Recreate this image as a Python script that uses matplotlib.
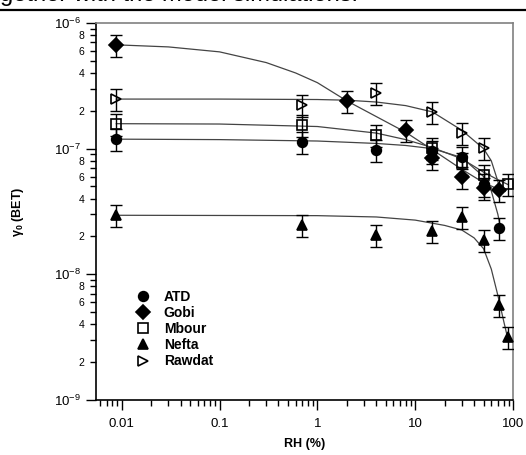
import numpy as np
import matplotlib
matplotlib.use("Agg")
import matplotlib.pyplot as plt
from matplotlib.ticker import FixedLocator, FixedFormatter, FuncFormatter, NullFormatter

plt.rcParams['font.family'] = ['Liberation Sans', 'DejaVu Sans']
plt.rcParams['mathtext.default'] = 'regular'

# measured points (RH in %, gamma0)
atd_rh = [0.0088, 0.7, 4, 15, 30, 50, 72]
atd_g = [1.19e-7, 1.13e-7, 9.8e-8, 9.5e-8, 8.6e-8, 5.2e-8, 2.35e-8]
gobi_rh = [0.0088, 2, 8, 15, 30, 50, 72]
gobi_g = [6.7e-7, 2.4e-7, 1.41e-7, 8.5e-8, 5.95e-8, 4.9e-8, 4.7e-8]
mbour_rh = [0.0088, 0.7, 4, 15, 30, 50, 88]
mbour_g = [1.58e-7, 1.55e-7, 1.29e-7, 1.01e-7, 7.7e-8, 6.2e-8, 5.25e-8]
nefta_rh = [0.0088, 0.7, 4, 15, 30, 50, 72, 88]
nefta_g = [2.95e-8, 2.47e-8, 2.06e-8, 2.2e-8, 2.86e-8, 1.88e-8, 5.7e-9, 3.2e-9]
rawdat_rh = [0.0088, 0.7, 4, 15, 30, 50]
rawdat_g = [2.48e-7, 2.23e-7, 2.77e-7, 1.96e-7, 1.33e-7, 1.01e-7]
rel_err = 0.2

# model curves
gobi_fit_rh = [0.0088, 0.03, 0.1, 0.3, 0.6, 1, 2, 4, 8, 15, 30, 50, 72, 83]
gobi_fit_g = [6.7e-7, 6.45e-7, 5.89e-7, 4.84e-7, 4.0e-7, 3.35e-7, 2.4e-7, 1.8e-7, 1.35e-7,
              9.8e-8, 6.84e-8, 5.37e-8, 4.73e-8, 4.57e-8]
mbour_fit_rh = [0.0088, 0.1, 1, 4, 8, 15, 30, 50, 72, 88]
mbour_fit_g = [1.58e-7, 1.57e-7, 1.5e-7, 1.33e-7, 1.18e-7, 1.02e-7, 8.3e-8, 6.5e-8, 5.6e-8, 5.2e-8]
atd_fit_rh = [0.0088, 0.1, 1, 4, 8, 15, 30, 50, 60, 70, 75]
atd_fit_g = [1.19e-7, 1.18e-7, 1.15e-7, 1.1e-7, 1.06e-7, 1.0e-7, 8.5e-8, 6.0e-8, 4.6e-8, 3.0e-8, 2.3e-8]
rawdat_fit_rh = [0.0088, 0.1, 1, 2, 4, 8, 15, 30, 50, 60, 70, 75]
rawdat_fit_g = [2.48e-7, 2.48e-7, 2.46e-7, 2.43e-7, 2.35e-7, 2.2e-7, 1.96e-7, 1.4e-7, 1.0e-7, 8.0e-8,
                5.5e-8, 4.2e-8]
nefta_fit_rh = [0.0088, 1, 4, 10, 20, 30, 40, 50, 60, 70, 80, 90]
nefta_fit_g = [2.95e-8, 2.93e-8, 2.86e-8, 2.7e-8, 2.45e-8, 2.25e-8, 1.95e-8, 1.6e-8, 1.1e-8, 6.8e-9,
               4.3e-9, 2.9e-9]

series = [
    ("ATD", atd_rh, atd_g, 'o', 'k', 7),
    ("Gobi", gobi_rh, gobi_g, 'D', 'k', 7),
    ("Mbour", mbour_rh, mbour_g, 's', 'none', 6.5),
    ("Nefta", nefta_rh, nefta_g, '^', 'k', 7.5),
    ("Rawdat", rawdat_rh, rawdat_g, '>', 'none', 7),
]
fits = [(gobi_fit_rh, gobi_fit_g), (mbour_fit_rh, mbour_fit_g), (atd_fit_rh, atd_fit_g),
        (rawdat_fit_rh, rawdat_fit_g), (nefta_fit_rh, nefta_fit_g)]

fig = plt.figure(figsize=(5.26, 4.55), dpi=100)
ax = fig.add_axes([0.1817, 0.1209, 0.7936, 0.8286])

for rh, g in fits:
    ax.plot(rh, g, color='#444444', lw=0.9, zorder=2)

for name, rh, g, m, fc, ms in series:
    g = np.array(g)
    ax.errorbar(rh, g, yerr=rel_err * g, fmt='none', ecolor='k', elinewidth=1.0,
                capsize=4, capthick=1.0, zorder=3)
    ax.plot(rh, g, linestyle='none', marker=m, ms=ms, mfc=fc, mec='k', mew=1.2,
            label=name, zorder=4)

ax.set_xscale('log')
ax.set_yscale('log')
ax.set_xlim(0.0054, 100)
ax.set_ylim(1e-9, 1e-6)

# ticks only inside the visible range
x_minor = [k * 10.0 ** e for e in range(-3, 2) for k in range(2, 10)]
x_minor = [v for v in x_minor if 0.0054 <= v <= 100]
y_minor = [k * 10.0 ** e for e in range(-9, -6) for k in range(2, 10)]

ax.xaxis.set_major_locator(FixedLocator([0.01, 0.1, 1, 10, 100]))
ax.xaxis.set_major_formatter(FixedFormatter(['0.01', '0.1', '1', '10', '100']))
ax.xaxis.set_minor_locator(FixedLocator(x_minor))
ax.xaxis.set_minor_formatter(NullFormatter())

ax.yaxis.set_major_locator(FixedLocator([1e-9, 1e-8, 1e-7, 1e-6]))
ax.yaxis.set_major_formatter(FuncFormatter(lambda v, pos: r'$10^{%d}$' % round(np.log10(v))))
ax.yaxis.set_minor_locator(FixedLocator(y_minor))

def minor_label(v, pos):
    d = int(round(v / 10 ** np.floor(np.log10(v) + 1e-9)))
    return str(d) if d in (2, 4, 6, 8) else ''

ax.yaxis.set_minor_formatter(FuncFormatter(minor_label))

ax.tick_params(which='major', direction='out', length=7, width=1, labelsize=9.5, top=False, right=False)
ax.tick_params(which='minor', direction='out', length=4.5, width=1, labelsize=7.5, top=False, right=False)
ax.tick_params(axis='x', which='major', pad=6)

for s in ['left', 'bottom']:
    ax.spines[s].set_linewidth(1.2)
for s in ['top', 'right']:
    ax.spines[s].set_color('#808080')
    ax.spines[s].set_linewidth(1.2)

ax.set_xlabel('RH (%)', fontweight='bold', fontsize=9, labelpad=6)
ax.set_ylabel(r'$\gamma_0$ (BET)', fontweight='bold', fontsize=9, labelpad=20)

ax.legend(loc='upper left', bbox_to_anchor=(0.08, 0.31), frameon=False,
          prop={'weight': 'bold', 'size': 10}, handletextpad=1.0,
          labelspacing=0.15, handlelength=1.0, borderpad=0)

# cropped caption and rule at the top of the page
fig.text(0.0, 1 - 0.5 / 455, 'gether with the model simulations.', fontsize=17,
         va='baseline', ha='left')
fig.add_artist(plt.Line2D([0, 1], [1 - 9.5 / 455, 1 - 9.5 / 455], color='k', lw=1.6))

fig.savefig('out.png', dpi=100)
